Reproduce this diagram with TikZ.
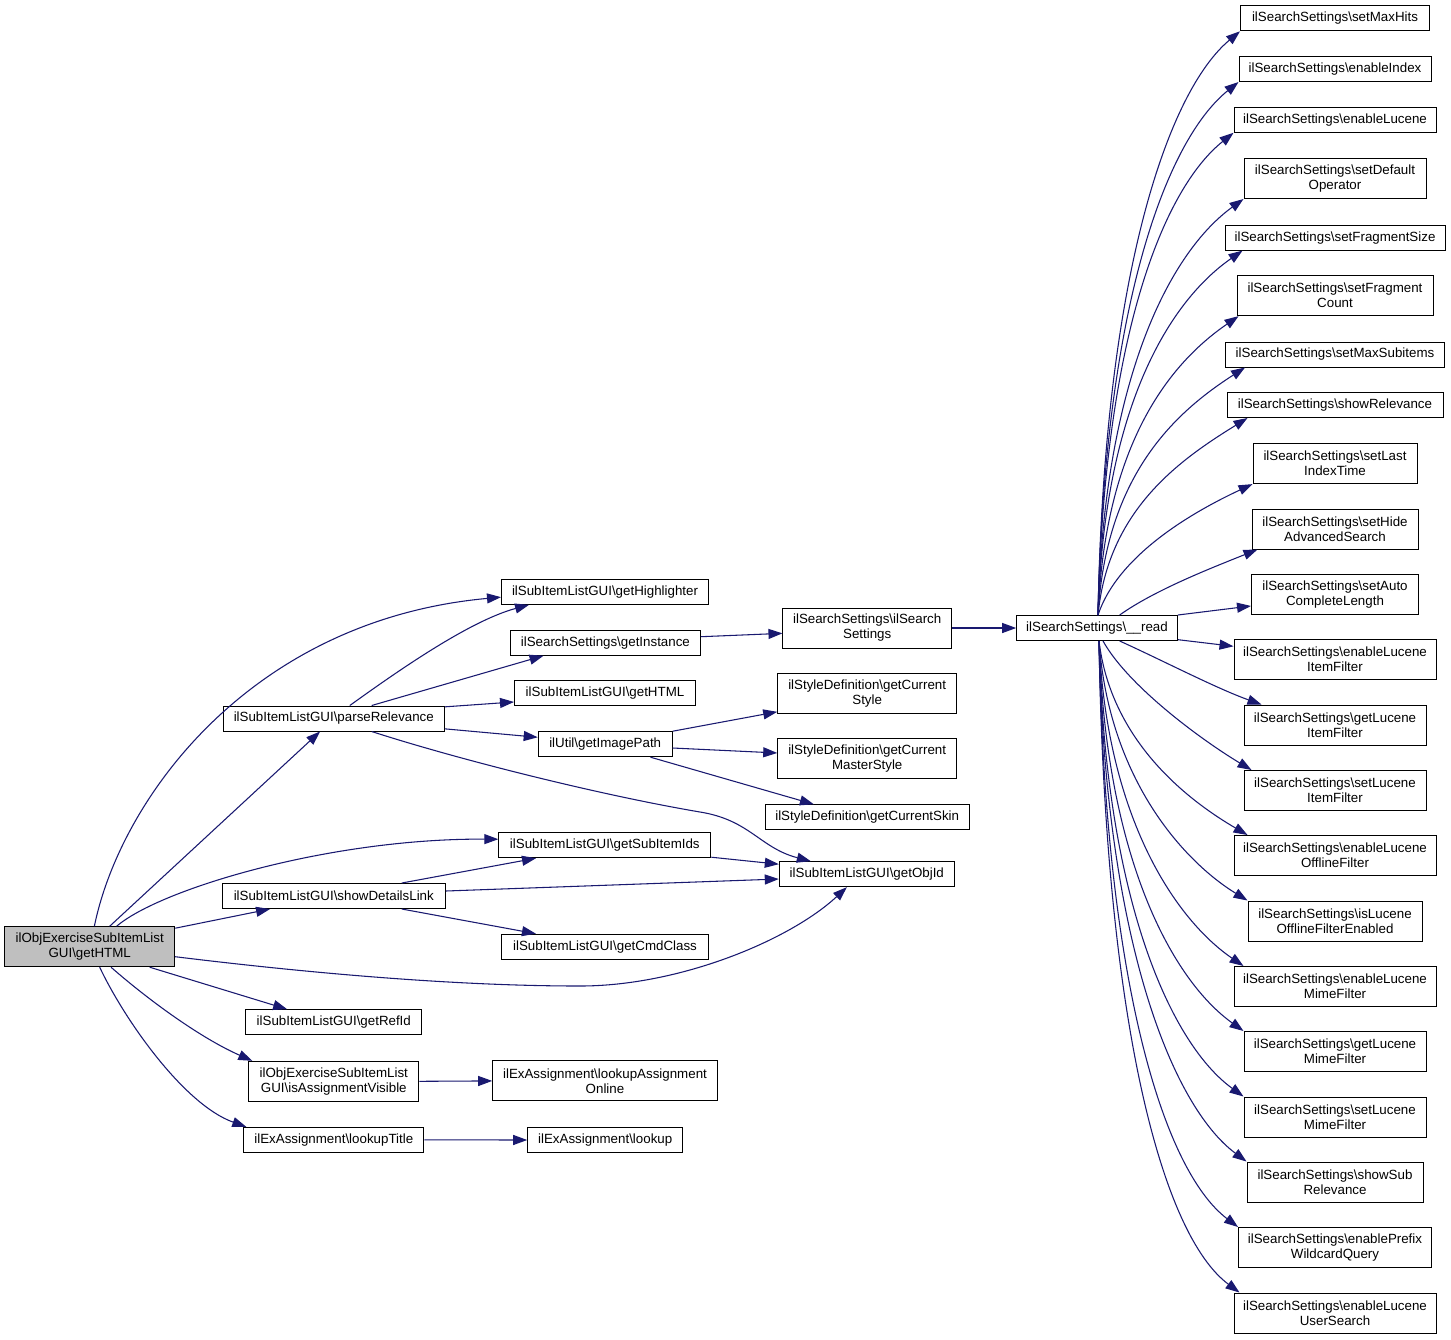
\documentclass[tikz,border=0pt]{standalone}
\usepackage{fontspec}
\setmainfont{Liberation Sans}
\usetikzlibrary{arrows.meta}
\definecolor{edgeblue}{RGB}{25,25,112}
\definecolor{mainfill}{RGB}{191,191,191}
\newcommand\bsl{\textbackslash}
\tikzset{
  box/.style={draw=black, line width=0.75pt, rectangle, inner sep=0pt, align=center,
    minimum height=18.75pt, font=\fontsize{10}{11.25}\selectfont, text=black},
  tall/.style={minimum height=30pt},
  e/.style={draw=edgeblue, line width=0.8pt, -{Triangle[length=10.5pt,width=7.5pt]}},
}
\begin{document}
\begin{tikzpicture}[x=0.75pt,y=-0.75pt]
\fill[white,use as bounding box] (0,0) rectangle (1451,1339);

% column 1
\node[box,fill=mainfill,tall,minimum width=127.5pt] (main) at (89.7,946.7) {ilObjExerciseSubItemList\\GUI\bsl getHTML};

% column 2
\node[box,minimum width=165.75pt] (pr) at (333.8,718.5) {ilSubItemListGUI\bsl parseRelevance};
\node[box,minimum width=167.25pt] (sdl) at (333.8,896) {ilSubItemListGUI\bsl showDetailsLink};
\node[box,minimum width=132pt] (gri) at (333.8,1022.2) {ilSubItemListGUI\bsl getRefId};
\node[box,tall,minimum width=127.5pt] (iav) at (333.8,1081.3) {ilObjExerciseSubItemList\\GUI\bsl isAssignmentVisible};
\node[box,minimum width=135pt] (lt) at (333.8,1139.8) {ilExAssignment\bsl lookupTitle};

% column 3
\node[box,minimum width=155.25pt] (gh) at (605,591.8) {ilSubItemListGUI\bsl getHighlighter};
\node[box,minimum width=142.5pt] (gi) at (605.4,642.7) {ilSearchSettings\bsl getInstance};
\node[box,minimum width=135.75pt] (ghtml) at (605,693.3) {ilSubItemListGUI\bsl getHTML};
\node[box,minimum width=100.5pt] (gip) at (605.2,744.2) {ilUtil\bsl getImagePath};
\node[box,minimum width=159pt] (gsi) at (604.8,845.2) {ilSubItemListGUI\bsl getSubItemIds};
\node[box,minimum width=155.25pt] (gcc) at (605,946.7) {ilSubItemListGUI\bsl getCmdClass};
\node[box,tall,minimum width=168.5pt] (lao) at (605,1080.9) {ilExAssignment\bsl lookupAssignment\\Online};
\node[box,minimum width=116.25pt] (lk) at (605.2,1140) {ilExAssignment\bsl lookup};

% column 4
\node[box,tall,minimum width=126.4pt] (ctor) at (867.2,628) {ilSearchSettings\bsl ilSearch\\Settings};
\node[box,tall,minimum width=134.25pt] (gcs) at (867.2,693.3) {ilStyleDefinition\bsl getCurrent\\Style};
\node[box,tall,minimum width=134.25pt] (gcms) at (867.2,758.3) {ilStyleDefinition\bsl getCurrent\\MasterStyle};
\node[box,minimum width=153pt] (gcsk) at (867.2,817.3) {ilStyleDefinition\bsl getCurrentSkin};
\node[box,minimum width=131.25pt] (go) at (866.8,874.2) {ilSubItemListGUI\bsl getObjId};

% column 5
\node[box,minimum width=120.5pt] (read) at (1097,628) {ilSearchSettings\bsl\_\_read};

% column 6
\node[box,minimum width=141.75pt] (smh) at (1335,18.3) {ilSearchSettings\bsl setMaxHits};
\node[box,minimum width=144pt] (ei) at (1335,69) {ilSearchSettings\bsl enableIndex};
\node[box,minimum width=151.5pt] (el) at (1335,119.8) {ilSearchSettings\bsl enableLucene};
\node[box,tall,minimum width=136.5pt] (sdo) at (1335,178.5) {ilSearchSettings\bsl setDefault\\Operator};
\node[box,minimum width=165pt] (sfs) at (1335,237.6) {ilSearchSettings\bsl setFragmentSize};
\node[box,tall,minimum width=147pt] (sfc) at (1335,295.7) {ilSearchSettings\bsl setFragment\\Count};
\node[box,minimum width=164.25pt] (sms) at (1335,354.5) {ilSearchSettings\bsl setMaxSubitems};
\node[box,minimum width=162pt] (sr) at (1335,405) {ilSearchSettings\bsl showRelevance};
\node[box,tall,minimum width=123pt] (sl) at (1335,463.6) {ilSearchSettings\bsl setLast\\IndexTime};
\node[box,tall,minimum width=124.5pt] (sh) at (1335,529) {ilSearchSettings\bsl setHide\\AdvancedSearch};
\node[box,tall,minimum width=125.25pt] (sa) at (1335,594.5) {ilSearchSettings\bsl setAuto\\CompleteLength};
\node[box,tall,minimum width=151.5pt] (elif) at (1335,659.5) {ilSearchSettings\bsl enableLucene\\ItemFilter};
\node[box,tall,minimum width=136.5pt] (glif) at (1335,725) {ilSearchSettings\bsl getLucene\\ItemFilter};
\node[box,tall,minimum width=136.5pt] (slif) at (1335,790.5) {ilSearchSettings\bsl setLucene\\ItemFilter};
\node[box,tall,minimum width=151.5pt] (elof) at (1335,855.5) {ilSearchSettings\bsl enableLucene\\OfflineFilter};
\node[box,tall,minimum width=130.5pt] (ilofe) at (1335,921) {ilSearchSettings\bsl isLucene\\OfflineFilterEnabled};
\node[box,tall,minimum width=151.5pt] (elmf) at (1335,986.5) {ilSearchSettings\bsl enableLucene\\MimeFilter};
\node[box,tall,minimum width=136.5pt] (glmf) at (1335,1051.5) {ilSearchSettings\bsl getLucene\\MimeFilter};
\node[box,tall,minimum width=136.5pt] (slmf) at (1335,1117) {ilSearchSettings\bsl setLucene\\MimeFilter};
\node[box,tall,minimum width=132pt] (ssr) at (1335,1182) {ilSearchSettings\bsl showSub\\Relevance};
\node[box,tall,minimum width=144.75pt] (epwq) at (1335,1247.5) {ilSearchSettings\bsl enablePrefix\\WildcardQuery};
\node[box,tall,minimum width=151.5pt] (elus) at (1335,1313) {ilSearchSettings\bsl enableLucene\\UserSearch};

% edges from main
\draw[e] ([xshift=3.5pt]main.north) .. controls +(26,-127) and +(-251,23) .. ([yshift=-4pt]gh.west);
\draw[e] ([xshift=15pt]main.north) -- ([xshift=-10.3pt]pr.south);
\draw[e] ([xshift=20.25pt]main.north) .. controls +(43,-37) and +(-169,-1) .. ([yshift=4.5pt]gsi.west);
\draw[e] ([yshift=-1.5pt]main.north east) -- ([xshift=-47.8pt]sdl.south);
\draw[e] ([yshift=-7.5pt]main.east) .. controls (300,972) and (450,986) .. (580,986)
   .. controls (680,986) and (790,940) .. ([xshift=-15pt]go.south);
\draw[e] ([xshift=45pt]main.south) -- ([xshift=-35pt]gri.north);
\draw[e] ([xshift=16pt]main.south) .. controls +(40,35) and +(-50,-22) .. ([xshift=3pt]iav.north west);
\draw[e] ([xshift=7.5pt]main.south) .. controls +(25,53) and +(-62,-22) .. ([xshift=2.25pt]lt.north west);

% edges from parseRelevance
\draw[e] ([xshift=12pt]pr.north) .. controls +(50,-36) and +(-59,16) .. ([xshift=-57pt]gh.south);
\draw[e] ([xshift=28.4pt]pr.north) -- ([xshift=-46.4pt]gi.south);
\draw[e] ([yshift=-1pt]pr.north east) -- ([yshift=-6.5pt]ghtml.west);
\draw[e] ([yshift=2pt]pr.south east) -- ([yshift=5.2pt]gip.west);
\draw[e] ([xshift=28.4pt]pr.south) .. controls (460,760) and (600,795) .. (700,812)
   .. controls (750,820) and (760,848) .. ([xshift=-42pt]go.north);

% edges from showDetailsLink
\draw[e] ([xshift=51pt]sdl.north) -- ([xshift=-51.6pt]gsi.south);
\draw[e] ([yshift=3.75pt]sdl.east) -- ([yshift=-3.6pt]go.west);
\draw[e] ([xshift=51pt]sdl.south) -- ([xshift=-51.8pt]gcc.north);
\draw[e] ([yshift=0.75pt]gsi.south east) -- ([yshift=7.5pt]go.west);

% others
\draw[e] ([yshift=4.5pt]gi.east) -- ([yshift=-4pt]ctor.west);
\draw[e] (ctor.east) -- (read.west);
\draw[e] (gip.north east) -- ([yshift=1.5pt]gcs.south west);
\draw[e] ([yshift=-2.85pt]gip.east) -- ([yshift=4pt]gcms.west);
\draw[e] ([xshift=34pt]gip.south) -- ([xshift=-40pt]gcsk.north);
\draw[e] (iav.east) -- (lao.west);
\draw[e] (lt.east) -- (lk.west);

% fan from __read (upper)
\draw[e] ([xshift=0.75pt]read.north) .. controls +(6,-340) and +(-72,60) .. (smh.south west);
\draw[e] ([xshift=0.75pt]read.north) .. controls +(6,-310) and +(-72,58) .. (ei.south west);
\draw[e] ([xshift=0.75pt]read.north) .. controls +(6,-280) and +(-70,56) .. (el.south west);
\draw[e] ([xshift=0.75pt]read.north) .. controls +(6,-240) and +(-72,52) .. (sdo.south west);
\draw[e] ([xshift=0.75pt]read.north) .. controls +(6,-210) and +(-72,50) .. ([xshift=13.5pt]sfs.south west);
\draw[e] ([xshift=0.75pt]read.north) .. controls +(7,-170) and +(-70,48) .. ([xshift=1.5pt]sfc.south west);
\draw[e] ([xshift=0.75pt]read.north) .. controls +(8,-140) and +(-70,45) .. ([xshift=15pt]sms.south west);
\draw[e] ([xshift=0.75pt]read.north) .. controls +(10,-105) and +(-68,42) .. ([xshift=15.75pt]sr.south west);
\draw[e] ([xshift=0.75pt]read.north) .. controls +(20,-60) and +(-60,28) .. (sl.south west);
\draw[e] ([xshift=17pt]read.north) .. controls +(35,-25) and +(-45,18) .. ([xshift=4.5pt]sh.south west);
\draw[e] (read.north east) -- ([yshift=-8.6pt]sa.west);
% fan from __read (lower)
\draw[e] ([yshift=1pt]read.south east) -- ([yshift=9.9pt]elif.west);
\draw[e] ([xshift=17pt]read.south) .. controls +(40,18) and +(-45,-16) .. ([xshift=13.5pt]glif.north west);
\draw[e] ([xshift=4.5pt]read.south) .. controls +(25,45) and +(-50,-30) .. ([xshift=6pt]slif.north west);
\draw[e] ([xshift=1.5pt]read.south) .. controls +(12,100) and +(-60,-35) .. ([xshift=10.5pt]elof.north west);
\draw[e] ([xshift=1.5pt]read.south) .. controls +(10,140) and +(-62,-38) .. (ilofe.north west);
\draw[e] ([xshift=1.5pt]read.south) .. controls +(8,180) and +(-66,-45) .. ([xshift=7.5pt]elmf.north west);
\draw[e] ([xshift=1.5pt]read.south) .. controls +(7,220) and +(-70,-50) .. (glmf.north west);
\draw[e] ([xshift=1.5pt]read.south) .. controls +(6,260) and +(-72,-52) .. (slmf.north west);
\draw[e] ([xshift=1.5pt]read.south) .. controls +(6,300) and +(-74,-55) .. (ssr.north west);
\draw[e] ([xshift=1.5pt]read.south) .. controls +(6,340) and +(-75,-57) .. (epwq.north west);
\draw[e] ([xshift=1.5pt]read.south) .. controls +(6,380) and +(-78,-58) .. ([xshift=4.5pt]elus.north west);
\end{tikzpicture}
\end{document}
